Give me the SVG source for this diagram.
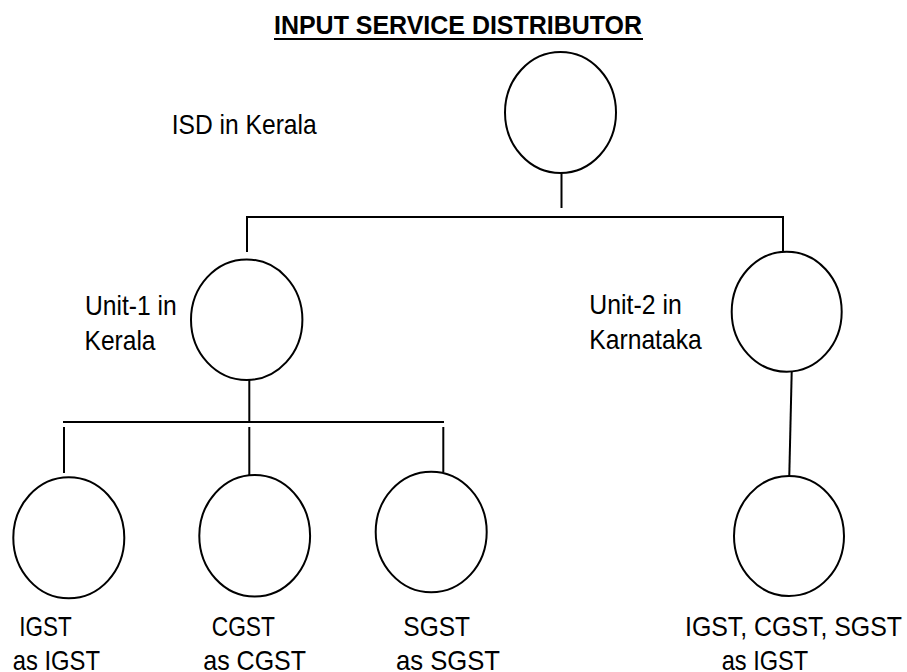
<svg xmlns="http://www.w3.org/2000/svg" width="907" height="672" viewBox="0 0 907 672">
<style>
.n{fill:#fff;stroke:#000;stroke-width:2}
.c{fill:none;stroke:#000;stroke-width:2}
text{font-family:"Liberation Sans",Arial,sans-serif;fill:#000}
.t{font-size:28px}
.h{font-size:25px;font-weight:bold}
</style>
<rect width="907" height="672" fill="#fff"/>
<g id="title">
<text class="h" x="274" y="34" textLength="368" lengthAdjust="spacingAndGlyphs">INPUT SERVICE DISTRIBUTOR</text>
<line x1="274" y1="39" x2="643" y2="39" stroke="#000" stroke-width="2"/>
</g>
<g id="connectors">
<line class="c" x1="561.5" y1="173" x2="561.5" y2="208"/>
<line class="c" x1="246" y1="217" x2="784" y2="217"/>
<line class="c" x1="247" y1="217" x2="247" y2="252"/>
<line class="c" x1="783" y1="217" x2="783" y2="252"/>
<line class="c" x1="249.3" y1="377" x2="249.3" y2="422"/>
<line class="c" x1="63" y1="422" x2="444" y2="422"/>
<line class="c" x1="64" y1="427" x2="64" y2="473"/>
<line class="c" x1="249.3" y1="427" x2="249.3" y2="475"/>
<line class="c" x1="443.3" y1="427" x2="443.3" y2="472"/>
<line class="c" x1="791.7" y1="372" x2="789.3" y2="475"/>
</g>
<g id="isd">
<ellipse class="n" cx="560.5" cy="112.5" rx="55.5" ry="60.5"/>
<text class="t" x="171.7" y="134.3" textLength="145" lengthAdjust="spacingAndGlyphs">ISD in Kerala</text>
</g>
<g id="unit1">
<ellipse class="n" cx="246.7" cy="319.7" rx="55.7" ry="60.3"/>
<text class="t" x="85" y="315" textLength="91.7" lengthAdjust="spacingAndGlyphs">Unit-1 in</text>
<text class="t" x="84.5" y="350" textLength="71" lengthAdjust="spacingAndGlyphs">Kerala</text>
</g>
<g id="unit2">
<ellipse class="n" cx="786.7" cy="311.7" rx="55" ry="60"/>
<text class="t" x="589.3" y="314" textLength="92.4" lengthAdjust="spacingAndGlyphs">Unit-2 in</text>
<text class="t" x="589.3" y="349" textLength="112.4" lengthAdjust="spacingAndGlyphs">Karnataka</text>
</g>
<g id="igst">
<ellipse class="n" cx="68.8" cy="537.8" rx="55.5" ry="60.5"/>
<text class="t" x="19.3" y="636" textLength="52.4" lengthAdjust="spacingAndGlyphs">IGST</text>
<text class="t" x="12.7" y="670" textLength="87.3" lengthAdjust="spacingAndGlyphs">as IGST</text>
</g>
<g id="cgst">
<ellipse class="n" cx="254.7" cy="535.8" rx="55.4" ry="60.8"/>
<text class="t" x="211.7" y="636" textLength="63.3" lengthAdjust="spacingAndGlyphs">CGST</text>
<text class="t" x="203.3" y="670" textLength="102.7" lengthAdjust="spacingAndGlyphs">as CGST</text>
</g>
<g id="sgst">
<ellipse class="n" cx="431.2" cy="532" rx="55.5" ry="60.3"/>
<text class="t" x="403.3" y="636" textLength="66.7" lengthAdjust="spacingAndGlyphs">SGST</text>
<text class="t" x="396" y="670" textLength="104" lengthAdjust="spacingAndGlyphs">as SGST</text>
</g>
<g id="all-igst">
<ellipse class="n" cx="789" cy="536" rx="55" ry="60"/>
<text class="t" x="685" y="636" textLength="217" lengthAdjust="spacingAndGlyphs">IGST, CGST, SGST</text>
<text class="t" x="721.7" y="670" textLength="86.6" lengthAdjust="spacingAndGlyphs">as IGST</text>
</g>
</svg>
